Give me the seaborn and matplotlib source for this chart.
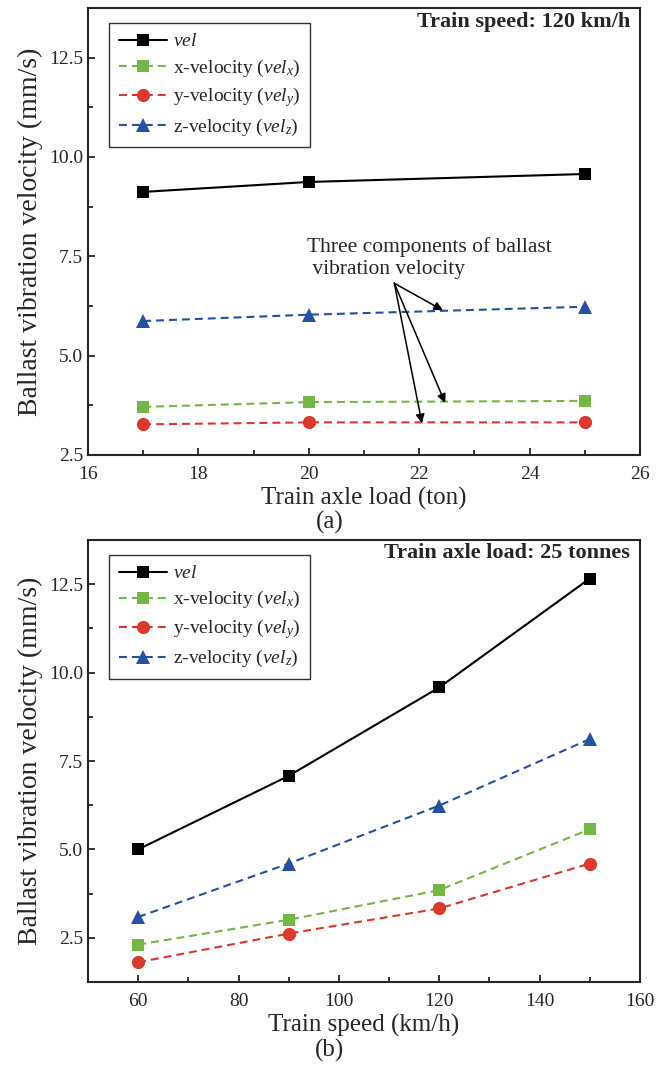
import numpy as np
import pandas as pd
import seaborn as sns
import matplotlib
matplotlib.use("Agg")
import matplotlib.pyplot as plt
from matplotlib.ticker import MultipleLocator, FormatStrFormatter

# ---- data -------------------------------------------------------------
axle_load = [17, 20, 25]                 # ton, train speed 120 km/h
vel_a = [9.12, 9.37, 9.57]
velx_a = [3.71, 3.83, 3.86]
vely_a = [3.27, 3.32, 3.32]
velz_a = [5.87, 6.03, 6.23]

train_speed = [60, 90, 120, 150]         # km/h, axle load 25 t
vel_b = [5.00, 7.08, 9.58, 12.66]
velx_b = [2.31, 3.01, 3.85, 5.57]
vely_b = [1.81, 2.62, 3.33, 4.60]
velz_b = [3.09, 4.60, 6.24, 8.12]

labels = [r"$vel$", r"x-velocity ($vel_x$)", r"y-velocity ($vel_y$)", r"z-velocity ($vel_z$)"]
colors = ["black", "#74B744", "#DC382C", "#2451A6"]
markers = ["s", "s", "o", "^"]
dash = (0, (3.8, 2.4))
styles = ["-", dash, dash, dash]
msizes = [8.5, 8.5, 9.5, 9.5]

# ---- style ------------------------------------------------------------
sns.set_theme(style="ticks")
plt.rcParams.update({
    "font.family": ["Liberation Serif", "DejaVu Serif"],
    "mathtext.fontset": "custom",
    "mathtext.rm": "Liberation Serif",
    "mathtext.it": "Liberation Serif:italic",
    "axes.linewidth": 1.5,
    "xtick.direction": "in",
    "ytick.direction": "in",
    "xtick.major.size": 5,
    "ytick.major.size": 5,
    "xtick.minor.size": 3.5,
    "ytick.minor.size": 3.5,
    "xtick.major.width": 1.3,
    "ytick.major.width": 1.3,
    "xtick.minor.width": 1.3,
    "ytick.minor.width": 1.3,
    "xtick.minor.visible": True,
    "ytick.minor.visible": True,
})

fig = plt.figure(figsize=(6.57, 10.68), dpi=100)
ax_a = fig.add_axes([0.134, 0.574, 0.840, 0.4186])
ax_b = fig.add_axes([0.134, 0.0805, 0.840, 0.4139])


def draw_panel(ax, x, series):
    for y, lab, c, m, ls, ms in zip(series, labels, colors, markers, styles, msizes):
        df = pd.DataFrame({"x": x, "y": y})
        sns.lineplot(data=df, x="x", y="y", ax=ax, color=c, marker=m,
                     markersize=ms, markeredgewidth=0, linestyle=ls,
                     linewidth=1.5, label=lab)
    leg = ax.legend(loc="upper left", bbox_to_anchor=(0.038, 0.966),
                    borderaxespad=0, fontsize=14, handlelength=2.5,
                    handletextpad=0.3, labelspacing=0.36, borderpad=0.5,
                    frameon=True, fancybox=False, edgecolor="black")
    leg.get_frame().set_linewidth(1.0)
    ax.set_ylabel("Ballast vibration velocity (mm/s)", fontsize=20, labelpad=4)
    ax.tick_params(labelsize=14, top=False, right=False)
    ax.tick_params(axis="x", pad=8)
    ax.tick_params(which="minor", top=False, right=False)
    ax.yaxis.set_major_locator(MultipleLocator(2.5))
    ax.yaxis.set_minor_locator(MultipleLocator(1.25))
    ax.yaxis.set_major_formatter(FormatStrFormatter("%.1f"))


# (a) effect of axle load
draw_panel(ax_a, axle_load, [vel_a, velx_a, vely_a, velz_a])
ax_a.set_xlim(16, 26)
ax_a.set_ylim(2.5, 13.75)
ax_a.xaxis.set_major_locator(MultipleLocator(2))
ax_a.xaxis.set_minor_locator(MultipleLocator(1))
ax_a.set_xlabel("Train axle load (ton)", fontsize=18, labelpad=3)
ax_a.text(0.982, 0.968, "Train speed: 120 km/h", transform=ax_a.transAxes,
          ha="right", va="center", fontsize=16, fontweight="bold")
ax_a.text(19.97, 6.93, "Three components of ballast\n vibration velocity",
          fontsize=15.5, ha="left", va="bottom", linespacing=1.2)
arrow_tips = [(22.43, 6.14), (22.47, 3.81), (22.05, 3.30)]
for tip in arrow_tips:
    ax_a.annotate("", xy=tip, xytext=(21.55, 6.82),
                  arrowprops=dict(arrowstyle="-|>", color="black", lw=1.1,
                                  mutation_scale=13, shrinkA=0, shrinkB=0))
fig.text(0.502, 0.511, "(a)", ha="center", va="center", fontsize=18)

# (b) effect of train speed
draw_panel(ax_b, train_speed, [vel_b, velx_b, vely_b, velz_b])
ax_b.set_xlim(50, 160)
ax_b.set_ylim(1.25, 13.75)
ax_b.xaxis.set_major_locator(MultipleLocator(20))
ax_b.xaxis.set_minor_locator(MultipleLocator(10))
ax_b.set_xlabel("Train speed (km/h)", fontsize=18, labelpad=3)
ax_b.text(0.982, 0.97, "Train axle load: 25 tonnes", transform=ax_b.transAxes,
          ha="right", va="center", fontsize=16, fontweight="bold")
fig.text(0.502, 0.016, "(b)", ha="center", va="center", fontsize=18)

fig.savefig("out.png", dpi=100)
